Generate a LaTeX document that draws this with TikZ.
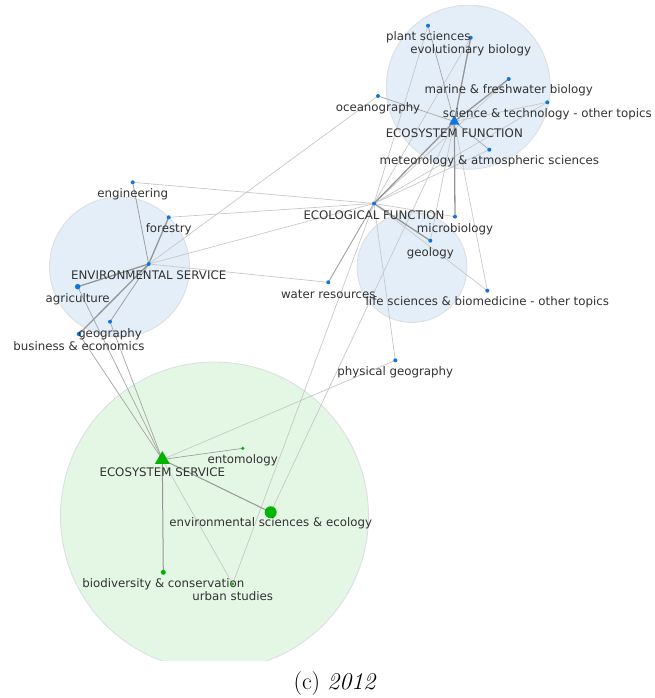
\documentclass[tikz,border=0pt]{standalone}
\usepackage{fontspec}
\newfontfamily\dejavu{DejaVu Sans}
\usetikzlibrary{shapes.geometric,backgrounds}
\definecolor{nodeblue}{RGB}{18,116,222}
\definecolor{nodegreen}{RGB}{0,180,0}
\definecolor{bluefill}{RGB}{227,238,249}
\definecolor{greenfill}{RGB}{228,246,228}
\definecolor{circleedge}{RGB}{218,222,226}
\definecolor{edgelight}{RGB}{200,200,200}
\definecolor{edgedark}{RGB}{150,150,150}
\definecolor{labeltext}{RGB}{50,50,50}
\begin{document}
\begin{tikzpicture}[x=1pt,y=-1pt,
  thinedge/.style={draw=edgelight, line width=0.7pt},
  thickedge/.style={draw=edgedark, line width=1.3pt},
  bdot/.style={circle, fill=nodeblue, inner sep=0pt, minimum size=4pt},
  gdot/.style={circle, fill=nodegreen, inner sep=0pt, minimum size=4pt},
  btri/.style={regular polygon, regular polygon sides=3, fill=nodeblue, inner sep=0pt, minimum size=12pt},
  gtri/.style={regular polygon, regular polygon sides=3, fill=nodegreen, inner sep=0pt, minimum size=17pt},
  lbl/.style={font=\dejavu\fontsize{11.8}{13}\selectfont, text=labeltext, inner sep=0pt, text height=8.6pt, text depth=0pt},
  bgcircle/.style={draw=circleedge, line width=0.8pt}
]
\useasboundingbox (0,0) rectangle (654,698);

\begin{scope}[on background layer]
  \begin{scope}
    \clip (0,0) rectangle (654,660);
    \filldraw[bgcircle, fill=greenfill] (214.5,516) circle[radius=154pt];
  \end{scope}
  \filldraw[bgcircle, fill=bluefill] (468.3,87.2) circle[radius=82pt];
  \filldraw[bgcircle, fill=bluefill] (119.5,267) circle[radius=70pt];
  \filldraw[bgcircle, fill=bluefill] (412,267.5) circle[radius=55pt];
\end{scope}

% blue nodes
\node[bdot] (plant) at (428,25.7) {};
\node[bdot] (evol) at (470.7,37.7) {};
\node[bdot] (marine) at (508.7,79) {};
\node[bdot] (scitech) at (547.3,102.3) {};
\node[bdot] (ocean) at (378,96) {};
\node[bdot] (meteo) at (489.3,149.7) {};
\node[btri] (ecof) at (454.3,121.5) {};
\node[bdot] (ef) at (374,203.5) {};
\node[bdot] (micro) at (455,216.7) {};
\node[bdot] (geology) at (430.3,240.7) {};
\node[bdot] (water) at (328.3,282.3) {};
\node[bdot] (life) at (487.3,290.7) {};
\node[bdot] (physgeo) at (395.3,360.3) {};
\node[bdot] (eng) at (132.7,182.3) {};
\node[bdot] (forestry) at (168.7,217.3) {};
\node[bdot] (envserv) at (148.7,264) {};
\node[bdot, minimum size=5.5pt] (agri) at (77.7,286.7) {};
\node[bdot] (geography) at (110,321.7) {};
\node[bdot, minimum size=4.5pt] (business) at (79,334) {};
% green nodes
\node[gtri] (es) at (162.3,459.5) {};
\node[gdot, minimum size=3.5pt] (ento) at (242.7,448.3) {};
\node[gdot, minimum size=12pt] (envsci) at (270.7,512.3) {};
\node[gdot, minimum size=5pt] (biodiv) at (163.3,572.3) {};
\node[gdot, minimum size=3pt] (urban) at (232.7,584) {};

\begin{scope}[on background layer]
  % thin edges
  \draw[thinedge] (ef.center) -- (eng.center);
  \draw[thinedge] (ef.center) -- (forestry.center);
  \draw[thinedge] (ef.center) -- (envserv.center);
  \draw[thinedge] (envserv.center) -- (ocean.center);
  \draw[thinedge] (envserv.center) -- (water.center);
  \draw[thinedge, draw=edgedark!80!edgelight, line width=0.8pt] (envserv.center) -- (eng.center);
  \draw[thinedge, draw=edgedark!80!edgelight, line width=0.8pt] (envserv.center) -- (geography.center);
  \draw[thinedge, draw=edgedark!70!edgelight] (agri.center) -- (es.center);
  \draw[thinedge, draw=edgedark!70!edgelight] (business.center) -- (es.center);
  \draw[thinedge, draw=edgedark!70!edgelight] (geography.center) -- (es.center);
  \draw[thinedge, draw=edgedark!80!edgelight, line width=0.9pt] (ef.center) -- (water.center);
  \draw[thinedge] (ef.center) -- (micro.center);
  \draw[thinedge] (ef.center) -- (physgeo.center);
  \draw[thinedge] (ef.center) -- (urban.center);
  \draw[thinedge] (ef.center) -- (life.center);
  \draw[thinedge] (ef.center) -- (plant.center);
  \draw[thinedge] (ef.center) -- (evol.center);
  \draw[thinedge] (ef.center) -- (marine.center);
  \draw[thinedge] (ef.center) -- (scitech.center);
  \draw[thinedge] (ef.center) -- (meteo.center);
  \draw[thinedge, draw=edgedark!70!edgelight] (ecof.center) -- (plant.center);
  \draw[thinedge] (ecof.center) -- (scitech.center);
  \draw[thinedge, draw=edgedark!70!edgelight] (ecof.center) -- (meteo.center);
  \draw[thinedge, draw=edgedark!70!edgelight] (ecof.center) -- (ocean.center);
  \draw[thinedge] (ecof.center) -- (geology.center);
  \draw[thinedge] (ecof.center) -- (life.center);
  \draw[thinedge] (ecof.center) -- (envsci.center);
  \draw[thinedge] (physgeo.center) -- (es.center);
  \draw[thinedge, draw=edgedark!80!edgelight] (es.center) -- (ento.center);
  \draw[thinedge] (es.center) -- (urban.center);
  % thick edges
  \draw[thickedge] (ef.center) -- (ecof.center);
  \draw[thickedge] (ef.center) -- (geology.center);
  \draw[thickedge] (ecof.center) -- (evol.center);
  \draw[thickedge] (ecof.center) -- (marine.center);
  \draw[thickedge] (ecof.center) -- (micro.center);
  \draw[thickedge] (envserv.center) -- (forestry.center);
  \draw[thickedge] (envserv.center) -- (agri.center);
  \draw[thickedge] (envserv.center) -- (business.center);
  \draw[thickedge, line width=1pt] (es.center) -- (envsci.center);
  \draw[thickedge, line width=1pt] (es.center) -- (biodiv.center);
\end{scope}

% labels
\node[lbl] (lplant) at (428.3,36.7) {plant sciences};
\node[lbl] (levol) at (470.7,49) {evolutionary biology};
\node[lbl] (lmarine) at (508.7,89.3) {marine \& freshwater biology};
\node[lbl] (lscitech) at (547.3,113.3) {science \& technology - other topics};
\node[lbl] (locean) at (378,107) {oceanography};
\node[lbl] (lecof) at (454.3,133.3) {ECOSYSTEM FUNCTION};
\node[lbl] (lmeteo) at (489.3,160) {meteorology \& atmospheric sciences};
\node[lbl] (lef) at (374,215) {ECOLOGICAL FUNCTION};
\node[lbl] (lmicro) at (455,227.7) {microbiology};
\node[lbl] (lgeology) at (430.3,252) {geology};
\node[lbl] (lwater) at (328.3,294) {water resources};
\node[lbl] (llife) at (487.3,301.3) {life sciences \& biomedicine - other topics};
\node[lbl] (lphysgeo) at (395.3,371.3) {physical geography};
\node[lbl] (leng) at (132.7,193) {engineering};
\node[lbl] (lforestry) at (168.7,228) {forestry};
\node[lbl] (lenvserv) at (148.7,275) {ENVIRONMENTAL SERVICE};
\node[lbl] (lagri) at (77.7,297.7) {agriculture};
\node[lbl] (lgeography) at (110,332.7) {geography};
\node[lbl] (lbusiness) at (79,346) {business \& economics};
\node[lbl] (les) at (162.3,472.3) {ECOSYSTEM SERVICE};
\node[lbl] (lento) at (242.7,459) {entomology};
\node[lbl] (lenvsci) at (270.7,522.3) {environmental sciences \& ecology};
\node[lbl] (lbiodiv) at (163.3,583) {biodiversity \& conservation};
\node[lbl] (lurban) at (232.7,596) {urban studies};

\node[font=\fontsize{24}{28}\selectfont, inner sep=0pt] (caption) at (335,684) {(c) \textit{2012}};
\end{tikzpicture}
\end{document}
